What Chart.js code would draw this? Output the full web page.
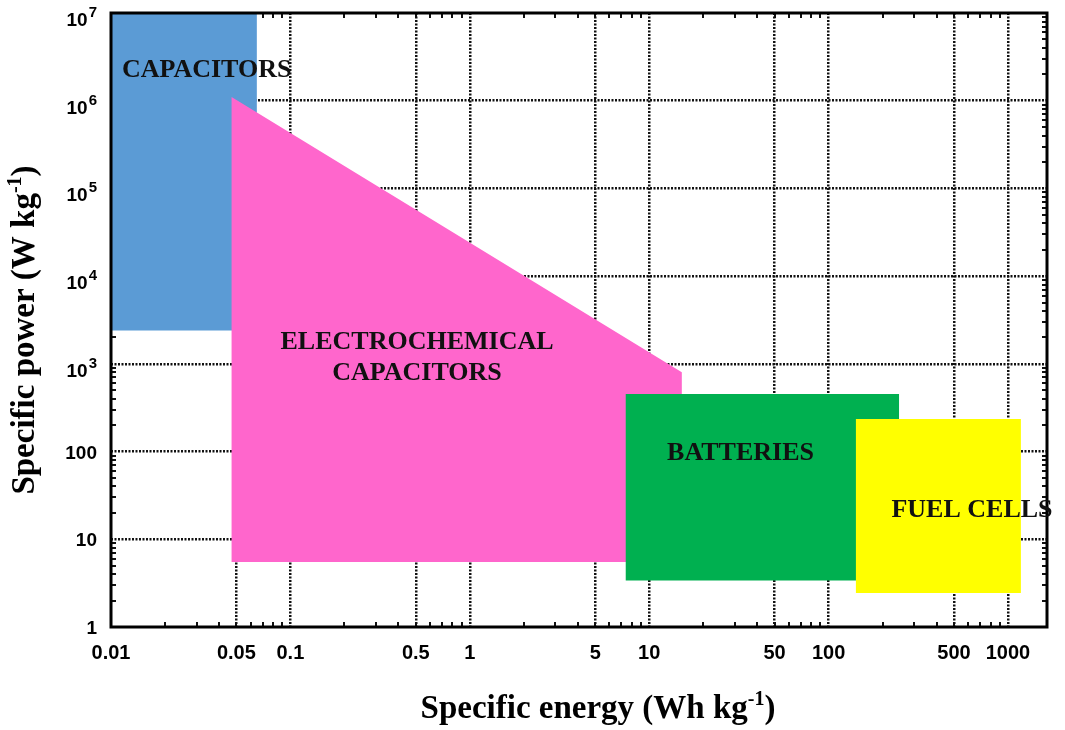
<!DOCTYPE html>
<html>
<head>
<meta charset="utf-8">
<script src="https://cdn.jsdelivr.net/npm/chart.js@4.4.1/dist/chart.umd.min.js"></script>
<style>
  html, body { margin: 0; padding: 0; background: #ffffff; }
  canvas { display: block; }
</style>
</head>
<body>
<canvas id="ragone" width="1065" height="730"></canvas>
<script>
// Ragone plot: specific power against specific energy for energy-storage technologies.

// Region outlines (closed polygons), energy in Wh/kg, power in W/kg
const capacitorsEnergy = [0.01, 0.065, 0.065, 0.01, 0.01];
const capacitorsPower  = [2400, 2400, 1e7, 1e7, 2400];

const electrochemEnergy = [0.047, 15.2, 15.2, 0.047, 0.047];
const electrochemPower  = [1.1e6, 800, 5.5, 5.5, 1.1e6];

const batteriesEnergy = [7.4, 247, 247, 7.4, 7.4];
const batteriesPower  = [3.4, 3.4, 453, 453, 3.4];

const fuelCellsEnergy = [142, 1180, 1180, 142, 142];
const fuelCellsPower  = [2.44, 2.44, 235, 235, 2.44];

const regionNames = ['CAPACITORS', 'ELECTROCHEMICAL CAPACITORS', 'BATTERIES', 'FUEL CELLS'];

// Axis ticks; power ticks above 100 are written as 10 with an exponent
const xTickValues = [0.01, 0.05, 0.1, 0.5, 1, 5, 10, 50, 100, 500, 1000];
const xTickLabels = ['0.01', '0.05', '0.1', '0.5', '1', '5', '10', '50', '100', '500', '1000'];
const yTickValues = [1, 10, 100, 1e3, 1e4, 1e5, 1e6, 1e7];
const yTickBases  = ['1', '10', '100', '10', '10', '10', '10', '10'];
const yTickExps   = ['', '', '', '3', '4', '5', '6', '7'];

const xMin = 0.01, xMax = 1650, yMin = 1, yMax = 1e7;

function polygon(xs, ys) {
  return xs.map((v, i) => ({ x: v, y: ys[i] }));
}

function regionDataset(name, xs, ys, color, order) {
  return {
    label: name,
    data: polygon(xs, ys),
    backgroundColor: color,
    borderColor: 'transparent',
    borderWidth: 0,
    pointRadius: 0,
    pointHoverRadius: 0,
    fill: 'shape',
    tension: 0,
    order: order
  };
}

const SERIF = '"Liberation Serif", "Times New Roman", serif';
const SANS = '"Liberation Sans", Arial, Helvetica, sans-serif';

// Draws text with a raised, smaller part: parts = [before, superscript, after]
function drawSupText(ctx, parts, cx, baseline, size) {
  const main = 'bold ' + size + 'px ' + SERIF;
  const sup = 'bold ' + Math.round(size * 0.62) + 'px ' + SERIF;
  ctx.font = main;
  const w0 = ctx.measureText(parts[0]).width;
  const w2 = ctx.measureText(parts[2]).width;
  ctx.font = sup;
  const w1 = ctx.measureText(parts[1]).width;
  let x = cx - (w0 + w1 + w2) / 2;
  ctx.textAlign = 'left';
  ctx.textBaseline = 'alphabetic';
  ctx.font = main; ctx.fillText(parts[0], x, baseline); x += w0;
  ctx.font = sup; ctx.fillText(parts[1], x, baseline - size * 0.38); x += w1;
  ctx.font = main; ctx.fillText(parts[2], x, baseline);
}

const frameAndDecor = {
  id: 'frameAndDecor',
  beforeDatasetsDraw(chart) {
    // short inward minor ticks on all four sides
    const { ctx, chartArea: a, scales: { x, y } } = chart;
    ctx.save();
    ctx.strokeStyle = '#111';
    ctx.lineWidth = 2;
    ctx.beginPath();
    for (let e = -2; e <= 3; e++) {
      for (let m = 2; m <= 9; m++) {
        const v = m * Math.pow(10, e);
        if (v > xMax) continue;
        const px = Math.round(x.getPixelForValue(v));
        ctx.moveTo(px, a.bottom); ctx.lineTo(px, a.bottom - 5);
        ctx.moveTo(px, a.top); ctx.lineTo(px, a.top + 5);
      }
    }
    for (let e = 0; e <= 6; e++) {
      for (let m = 2; m <= 9; m++) {
        const py = Math.round(y.getPixelForValue(m * Math.pow(10, e)));
        ctx.moveTo(a.left, py); ctx.lineTo(a.left + 5, py);
        ctx.moveTo(a.right, py); ctx.lineTo(a.right - 5, py);
      }
    }
    ctx.stroke();
    ctx.restore();
  },
  afterDatasetsDraw(chart, args, opts) {
    const { ctx, chartArea: a, scales: { x, y } } = chart;
    ctx.save();
    // plot frame
    ctx.strokeStyle = '#000';
    ctx.lineWidth = 3;
    ctx.strokeRect(a.left, a.top, a.right - a.left, a.bottom - a.top);

    // power tick labels with superscript exponents
    ctx.fillStyle = '#000';
    ctx.textAlign = 'left';
    ctx.textBaseline = 'alphabetic';
    const baseFont = 'bold 19px ' + SANS, expFont = 'bold 15px ' + SANS;
    const right = a.left - 14;
    yTickValues.forEach((v, i) => {
      const py = y.getPixelForValue(v);
      ctx.font = baseFont;
      const wb = ctx.measureText(yTickBases[i]).width;
      ctx.font = expFont;
      const we = yTickExps[i] ? ctx.measureText(yTickExps[i]).width + 1 : 0;
      const x0 = right - wb - we;
      const baseLine = yTickExps[i] ? py + 13 : py + 7;
      ctx.font = baseFont;
      ctx.fillText(yTickBases[i], x0, baseLine);
      if (yTickExps[i]) {
        ctx.font = expFont;
        ctx.fillText(yTickExps[i], x0 + wb + 1, baseLine - 9);
      }
    });

    // region names
    ctx.fillStyle = '#111';
    ctx.font = 'bold 26px ' + SERIF;
    opts.labels.forEach(l => {
      ctx.textAlign = l.align;
      const px = x.getPixelForValue(l.x);
      l.lines.forEach((t, i) => {
        ctx.fillText(t, px, y.getPixelForValue(l.y[i]));
      });
    });

    // axis titles
    ctx.fillStyle = '#000';
    drawSupText(ctx, ['Specific energy (Wh kg', '-1', ')'], 598, 718, 33);
    ctx.translate(34, 330);
    ctx.rotate(-Math.PI / 2);
    drawSupText(ctx, ['Specific power (W kg', '-1', ')'], 0, 0, 33);
    ctx.restore();
  }
};

new Chart(document.getElementById('ragone'), {
  type: 'line',
  data: {
    datasets: [
      regionDataset(regionNames[0], capacitorsEnergy, capacitorsPower, '#5b9bd5', 4),
      regionDataset(regionNames[1], electrochemEnergy, electrochemPower, '#ff66cc', 3),
      regionDataset(regionNames[2], batteriesEnergy, batteriesPower, '#00b050', 2),
      regionDataset(regionNames[3], fuelCellsEnergy, fuelCellsPower, '#ffff00', 1)
    ]
  },
  options: {
    responsive: false,
    animation: false,
    devicePixelRatio: 1,
    layout: { padding: { top: 13, right: 18, left: 0, bottom: 0 } },
    plugins: {
      legend: { display: false },
      tooltip: { enabled: false },
      frameAndDecor: {
        labels: [
          { lines: ['CAPACITORS'], x: 0.0115, y: [1.86e6], align: 'left' },
          { lines: ['ELECTROCHEMICAL', 'CAPACITORS'], x: 0.508, y: [1476, 653], align: 'center' },
          { lines: ['BATTERIES'], x: 32.3, y: [80], align: 'center' },
          { lines: ['FUEL CELLS'], x: 630, y: [17.9], align: 'center' }
        ]
      }
    },
    scales: {
      x: {
        type: 'logarithmic',
        min: xMin,
        max: xMax,
        afterBuildTicks: (scale) => { scale.ticks = xTickValues.map(v => ({ value: v })); },
        afterFit: (scale) => {
          scale.height = 103;
          scale.paddingLeft = 0; scale.paddingRight = 0;
        },
        grid: {
          drawTicks: false,
          lineWidth: 2.5,
          color: (c) => (c.tick && c.tick.value === xMin) ? 'transparent' : '#111'
        },
        border: { display: false, dash: [2, 1.5] },
        ticks: {
          autoSkip: false,
          maxRotation: 0,
          padding: 14,
          color: '#000',
          font: { family: SANS, size: 20, weight: 'bold' },
          callback: (v, i) => xTickLabels[i]
        }
      },
      y: {
        type: 'logarithmic',
        min: yMin,
        max: yMax,
        afterBuildTicks: (scale) => { scale.ticks = yTickValues.map(v => ({ value: v })); },
        afterFit: (scale) => {
          scale.width = 111;
          scale.paddingTop = 0; scale.paddingBottom = 0;
        },
        grid: {
          drawTicks: false,
          lineWidth: 2.5,
          color: (c) => (c.tick && (c.tick.value === yMin || c.tick.value === yMax)) ? 'transparent' : '#111'
        },
        border: { display: false, dash: [2, 1.5] },
        ticks: { display: false }
      }
    }
  },
  plugins: [frameAndDecor]
});
</script>
</body>
</html>
